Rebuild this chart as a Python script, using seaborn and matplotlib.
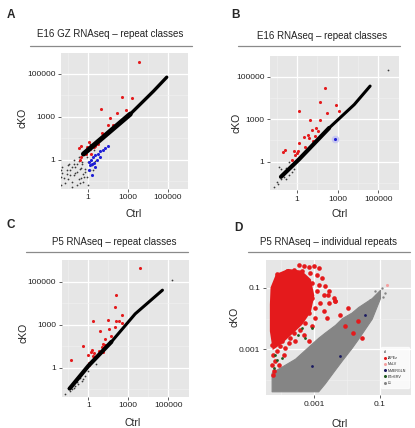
import numpy as np
import pandas as pd
import seaborn as sns
import matplotlib.pyplot as plt
from matplotlib.lines import Line2D

sns.set_theme(style='darkgrid', rc={'axes.facecolor': '#e6e6e6', 'grid.color': 'white'})
plt.rcParams['font.family'] = ['Liberation Sans', 'DejaVu Sans']

# all values are log10 of the normalised counts
# --- A: E16 GZ RNAseq
a_red_x = [3.58, 2.58, 3.20, 1.00, 2.86, 2.19, 1.64, 1.49, 1.89, 1.07, 1.19, 0.07, -0.47, -0.67, -0.04, 0.20, 0.45, -0.30, -0.12, -0.54, -0.60, 0.57, 0.74, 0.28]
a_red_y = [5.58, 3.94, 3.90, 3.36, 3.33, 3.16, 2.92, 2.46, 2.46, 1.86, 1.77, 1.24, 0.94, 0.85, 0.90, 0.78, 0.90, 0.55, 0.39, 0.21, -0.02, 0.99, 1.12, 0.43]
a_blue_x = [1.49, 1.32, 1.15, 0.95, 0.74, 0.57, 0.40, 0.25, 0.07, 0.15, 0.33, 0.50, 0.57, 0.33, 0.07, 0.70, 0.95]
a_blue_y = [0.94, 0.83, 0.71, 0.62, 0.43, 0.32, 0.21, 0.02, -0.14, -0.37, -0.30, -0.21, -0.48, -1.05, -0.71, -0.02, 0.21]
a_band_x = [-0.32, 1.44, 3.12, 4.28, 4.94]
a_band_y = [0.41, 1.81, 3.13, 4.20, 4.85]
a_dots_x = [-1.79, -1.96, -1.96, -1.53, -1.16, -1.29, -0.92, -0.79, -0.54, -0.42, -0.29, -0.17, -1.04, -1.41, -0.04, -0.67, 0.20, 0.70, -0.54, 1.19, 0.45, 2.06,
            -1.56, -1.44, -1.31, -1.19, -1.06, -0.94, -0.82, -0.69, -0.57, -0.44, -0.32, -0.20, -0.07, 0.05, 0.18, 0.30, -1.19, -0.82, -0.32, 0.05, 0.55, 0.42,
            -1.68, -1.44, -0.69, -1.98, -1.98, -1.98, -1.06, -0.57]
a_dots_y = [-1.29, -0.48, -0.94, -0.71, -0.48, -1.05, -0.94, -0.26, -0.60, -0.14, -1.17, -0.83, -0.02, -0.26, 0.21, 0.21, 1.12, 1.36, -1.29, 1.70, 0.67, 2.28,
            -0.97, -1.31, -0.74, -1.54, -1.08, -0.51, -0.85, -1.31, -1.65, -0.28, -0.97, -0.62, -1.20, -0.16, -0.74, -0.39, -1.88, -1.77, -1.54, -1.77, -0.05, -0.74,
            -1.65, -0.39, -0.05, -0.74, -1.20, -1.77, -0.28, -0.62]

# --- B: E16 RNAseq
b_red_x = [2.05, 1.70, 2.87, 0.13, 2.24, 3.08, 0.96, 1.68, 1.09, 1.43, 1.53, 0.52, 0.89, 1.31, 0.81, 0.15, 0.61, -0.20, -0.02, -0.17, -0.89, -1.04, -0.39, 0.07, 1.16]
b_red_y = [4.47, 3.82, 3.69, 3.38, 3.28, 3.38, 2.95, 2.95, 2.26, 2.38, 2.15, 1.74, 1.69, 1.83, 1.88, 1.34, 1.05, 0.72, 0.59, 0.50, 0.81, 0.66, 0.15, 0.72, 1.46]
b_blue_x = [2.79]
b_blue_y = [1.62]
b_band_x = [-1.19, 0.15, 2.37, 3.82, 4.60]
b_band_y = [-1.07, 0.17, 2.38, 3.69, 4.56]
b_dots_x = [-1.51, -1.21, -0.96, -1.09, -0.59, -0.72, -0.22, -0.47, -0.84, -1.70, -1.33, 0.27, 0.96, -0.59, 5.50, -1.40, -0.80, -1.15, -0.35]
b_dots_y = [-1.41, -1.19, -1.07, -0.84, -0.95, -0.61, -0.50, -0.26, -0.43, -1.76, -0.38, 0.31, 1.00, -0.03, 5.30, -1.60, -1.25, -0.55, -0.70]

# --- C: P5 RNAseq
c_red_x = [3.60, 2.04, 2.00, 0.37, 1.50, 2.56, 2.04, 2.27, 2.56, 0.91, 1.53, 1.97, 1.67, 1.23, 1.11, 1.06, 1.23, -0.37, 0.30, 0.44, 0.24, 0.32, -0.05, 0.07, 0.54, 0.79, -1.29, 0.04, 1.11]
c_red_y = [5.65, 4.36, 3.80, 3.18, 3.23, 3.43, 3.16, 3.16, 3.08, 2.58, 2.72, 2.82, 2.20, 2.01, 1.66, 1.43, 1.57, 1.50, 1.25, 1.04, 1.09, 0.81, 0.88, 0.35, 0.74, 1.16, 0.51, 0.19, 1.11]
c_band_x = [-1.39, 0.02, 1.73, 3.34, 4.70]
c_band_y = [-1.45, 0.14, 1.80, 3.50, 4.60]
c_dots_x = [-1.73, -1.24, -0.99, -0.74, -0.87, -0.50, -0.62, -0.25, -1.11, 0.00, 0.61, -1.36, 5.20, -1.50, -1.05, -0.40]
c_dots_y = [-1.85, -1.50, -1.27, -1.11, -0.97, -0.92, -0.69, -0.57, -1.16, -0.23, 0.28, -1.61, 5.08, -1.40, -1.40, -0.80]

# --- D: P5 individual repeats
d_l1_x = [-4.28, -3.57, -2.87, -2.67, -2.36, -2.15, -1.86, -1.66, -1.25, -1.00]
d_l1_lo = [-4.36, -4.36, -4.36, -4.10, -3.65, -3.35, -2.95, -2.65, -2.00, -1.33]
d_l1_hi = [-3.75, -3.30, -2.62, -2.45, -2.20, -1.98, -1.80, -1.62, -1.33, -1.06]
d_l1_dots_x = [-1.15, -0.95, -0.85, -1.30, -0.90]
d_l1_dots_y = [-1.11, -1.00, -1.16, -1.40, -1.30]
d_core_x = [-4.25, -4.10, -3.77, -3.40, -3.15, -3.05, -3.15, -3.40, -3.70, -4.00, -4.20, -4.27, -4.27]
d_core_y = [-1.00, -0.60, -0.45, -0.50, -0.75, -1.25, -1.75, -2.15, -2.45, -2.75, -2.90, -2.40, -1.54]
d_red_x = [-3.465, -3.313, -3.162, -3.010, -2.859, -3.616, -3.364, -3.111, -2.909, -2.758, -3.818, -3.970, -4.121,
           -3.061, -2.859, -2.657, -2.556, -2.404, -2.707, -2.909, -3.061, -2.808, -2.556, -2.354, -2.960, -2.707,
           -3.162, -2.960, -2.606, -3.263, -3.061,
           -3.414, -3.616, -3.566, -3.768, -3.869, -4.020, -4.121, -3.919, -4.172, -4.071, -4.222, -3.970, -3.717,
           -3.313, -3.162, -4.273, -4.253, -4.273, -4.243,
           -2.21, -2.06, -1.81, -1.55, -1.66, -1.96, -2.36, -2.57]
d_red_y = [-0.263, -0.295, -0.328, -0.284, -0.349, -0.404, -0.436, -0.512, -0.566, -0.675, -0.458, -0.566, -0.544,
           -0.837, -0.891, -0.946, -1.108, -1.325, -1.217, -1.108, -1.325, -1.487, -1.487, -1.433, -1.650, -1.758,
           -1.813, -1.975, -1.975, -2.138, -2.246,
           -2.355, -2.463, -2.734, -2.788, -2.951, -2.897, -3.059, -3.168, -3.385, -3.493, -3.710, -2.734, -2.626,
           -2.517, -2.734, -2.843, -3.168, -3.493, -3.818,
           -1.87, -2.25, -2.46, -2.63, -2.08, -1.65, -1.43, -1.22]
d_green_x = [-3.36, -3.26, -3.47, -4.17, -3.97, -4.22, -4.12, -3.07]
d_green_y = [-2.30, -2.63, -2.52, -3.17, -3.28, -3.60, -3.33, -2.30]
d_navy_x = [-2.21, -1.45, -3.07]
d_navy_y = [-3.22, -1.87, -3.55]
d_mulv_x = [-0.80]
d_mulv_y = [-0.90]
d_ids = ['IAPEz', 'MuLV', 'MMERGLN', 'ETnERV', 'L1']

RED = '#e41a1c'
BLUE = '#1f1fd6'
W, H = 415, 428


def fwd(v):
    v = np.asarray(v, dtype=float)
    return np.where(v <= 3, v / 3, 1 + (v - 3) / 2)


def inv(u):
    u = np.asarray(u, dtype=float)
    return np.where(u <= 1, 3 * u, 3 + 2 * (u - 1))


def box(l, t, r, b):
    return [l / W, 1 - b / H, (r - l) / W, (b - t) / H]


def style(ax):
    ax.tick_params(axis='both', which='major', length=2.5, width=0.6, color='#444444',
                   labelsize=6, pad=1.5, bottom=True, left=True, labelcolor='#222222')
    ax.tick_params(axis='both', which='minor', length=0)
    ax.grid(which='major', color='white', lw=0.9)
    ax.grid(which='minor', color='#f2f2f2', lw=0.4)
    for s in ax.spines.values():
        s.set_visible(False)
    ax.set_xlabel('')
    ax.set_ylabel('')


def counts_axes(ax):
    ax.set_xscale('function', functions=(fwd, inv))
    ax.set_yscale('function', functions=(fwd, inv))
    ax.set_xlim(-2, 6)
    ax.set_ylim(-2, 6)
    ax.set_xticks([0, 3, 5], ['1', '1000', '100000'])
    ax.set_yticks([0, 3, 5], ['1', '1000', '100000'])
    ax.set_xticks([-1.5, 1.5, 4], minor=True)
    ax.set_yticks([-1.5, 1.5, 4], minor=True)
    style(ax)


def pts(ax, x, y, color, s, **kw):
    sns.scatterplot(x=x, y=y, ax=ax, color=color, s=s, linewidth=0, legend=False, **kw)


def band(ax, x, y, lw_low, lw_high):
    # dense diagonal of unchanged repeats, wider at low counts
    df = pd.DataFrame({'x': x, 'y': y})
    for part, lw in [(df.iloc[:3], lw_low), (df.iloc[2:], lw_high)]:
        sns.lineplot(data=part, x='x', y='y', ax=ax, color='black', lw=lw, sort=False,
                     estimator=None, solid_capstyle='round')


fig = plt.figure(figsize=(W / 100, H / 100), dpi=100)

axA = fig.add_axes(box(61, 52.5, 188, 188.5))
pts(axA, a_dots_x, a_dots_y, '#3a3a3a', 1.6)
band(axA, a_band_x, a_band_y, 3.6, 2.4)
pts(axA, a_blue_x, a_blue_y, BLUE, 5)
pts(axA, a_red_x, a_red_y, RED, 5)
counts_axes(axA)

axB = fig.add_axes(box(270, 55.5, 398.5, 190))
pts(axB, b_dots_x, b_dots_y, '#3a3a3a', 1.6)
band(axB, b_band_x, b_band_y, 3.0, 2.2)
pts(axB, b_blue_x, b_blue_y, '#c8c8f0', 30)
pts(axB, b_blue_x, b_blue_y, BLUE, 5)
pts(axB, b_red_x, b_red_y, RED, 5)
counts_axes(axB)

axC = fig.add_axes(box(61.5, 260, 188.5, 396.5))
pts(axC, c_dots_x, c_dots_y, '#3a3a3a', 1.6)
band(axC, c_band_x, c_band_y, 3.0, 2.2)
pts(axC, c_red_x, c_red_y, RED, 5)
counts_axes(axC)

axD = fig.add_axes(box(266, 260, 411, 395))
axD.fill_between(d_l1_x, d_l1_lo, d_l1_hi, color='#858585', lw=0.8, edgecolor='#858585')
pts(axD, d_l1_dots_x, d_l1_dots_y, '#858585', 3)
axD.fill(d_core_x, d_core_y, color=RED, lw=3, edgecolor=RED)
pts(axD, d_red_x, d_red_y, RED, 11)
pts(axD, d_mulv_x, d_mulv_y, '#f3a0a0', 5)
pts(axD, d_green_x, d_green_y, '#1f5a1f', 4)
pts(axD, d_navy_x, d_navy_y, '#1a1a60', 4)
axD.set_xlim(-4.45, -0.06)
axD.set_ylim(-4.48, -0.09)
axD.set_xticks([-3, -1], ['0.001', '0.1'])
axD.set_yticks([-3, -1], ['0.001', '0.1'])
axD.set_xticks([-4, -2], minor=True)
axD.set_yticks([-4, -2], minor=True)
style(axD)
colors = [RED, '#f3a0a0', '#1a1a60', '#1f5a1f', '#858585']
handles = [Line2D([], [], ls='', marker='o', ms=1.2, color=c) for c in colors]
leg = axD.legend(handles, d_ids, title='id', loc='lower right', bbox_to_anchor=(1.0, 0.04),
                 fontsize=2.6, title_fontsize=2.6, frameon=True, handletextpad=0.3,
                 borderpad=0.8, labelspacing=0.6, handlelength=0.8)
leg.get_frame().set_facecolor('white')
leg.get_frame().set_edgecolor('white')
leg._legend_box.align = 'left'

# panel titles, rules, letters and axis names
titles = [('E16 GZ RNAseq – repeat classes', 110.5, 34, 30, 192, 46),
          ('E16 RNAseq – repeat classes', 321.7, 35.7, 237.7, 400, 46),
          ('P5 RNAseq – repeat classes', 114.7, 242, 26, 188, 252),
          ('P5 RNAseq – individual repeats', 328, 242, 248, 410, 252)]
for txt, x, y, l, r, ly in titles:
    fig.text(x / W, 1 - y / H, txt, ha='center', va='center', fontsize=7, color='#222222')
    fig.add_artist(Line2D([l / W, r / W], [1 - ly / H, 1 - ly / H], color='#8a8a8a', lw=0.9))

for letter, x, y in [('A', 7, 15), ('B', 231, 15), ('C', 6, 225), ('D', 234, 228)]:
    fig.text(x / W, 1 - y / H, letter, ha='left', va='center', fontsize=8.5, fontweight='bold')

for x, y in [(134, 213.5), (340, 214), (133, 423), (340, 424)]:
    fig.text(x / W, 1 - y / H, 'Ctrl', ha='center', va='center', fontsize=7.5, color='#222222')
for x, y in [(23, 118), (236.7, 122.7), (23.3, 333), (234.3, 316.7)]:
    fig.text(x / W, 1 - y / H, 'cKO', ha='center', va='center', fontsize=7.5, rotation=90,
             color='#222222')

plt.savefig('out.png', dpi=100)
plt.close()
